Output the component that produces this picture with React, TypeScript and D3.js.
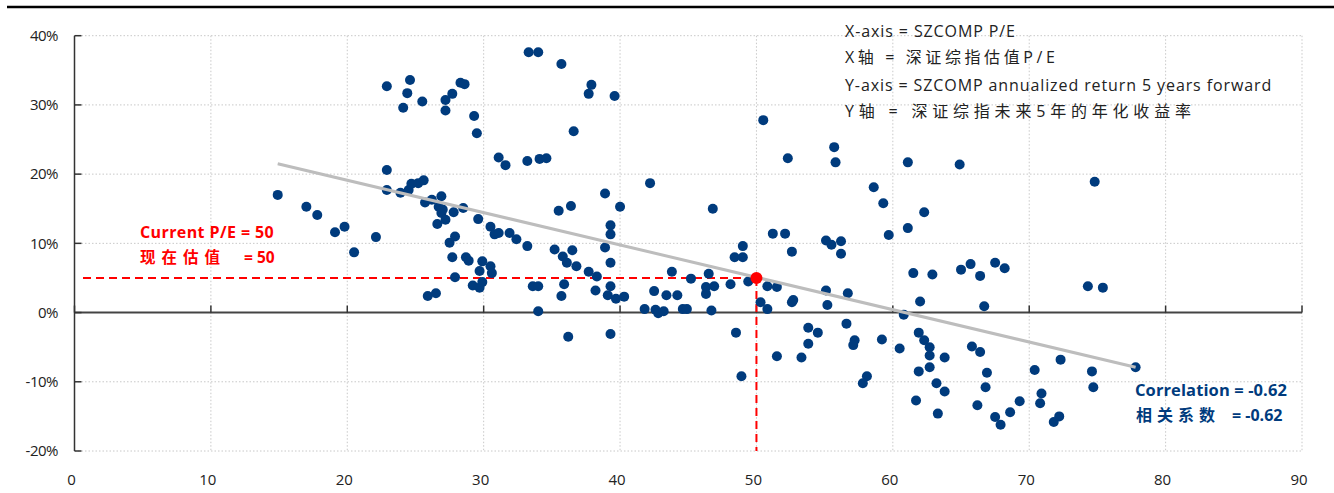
import React from "react";
import * as d3 from "d3";

// SZCOMP P/E (x) vs annualized return 5 years forward in % (y)
const peValues = [
  14.9, 17.0, 17.8, 19.1, 19.8, 20.5, 22.1, 22.9, 24.6, 24.4, 25.5, 24.1, 27.2, 27.2, 27.7, 28.3, 28.6, 29.3, 29.5,
  22.9, 22.9, 23.9, 24.5, 24.7, 25.2, 25.6, 26.2, 25.7, 26.7, 26.9, 26.9, 26.6, 27.0, 27.8, 28.5, 27.2, 29.6, 30.5,
  30.8, 31.1, 31.9, 32.4, 33.2, 27.5, 27.9, 27.7, 28.7, 28.9, 27.9, 25.9, 26.5, 29.9, 30.5, 29.7, 30.6, 29.2, 29.7,
  29.9, 31.1, 31.6, 33.2, 34.1, 34.6, 33.3, 34.0, 35.7, 37.9, 37.7, 39.6, 36.6, 38.9, 36.4, 35.5, 40.0, 39.3, 39.3,
  38.9, 35.2, 36.5, 35.8, 36.1, 36.8, 37.7, 38.3, 39.3, 39.3, 39.1, 39.7, 38.2, 35.9, 35.7, 33.6, 34.0, 34.0, 36.2,
  39.3, 42.2, 50.5, 52.3, 46.8, 51.2, 52.1, 49.0, 52.6, 48.4, 49.0, 43.8, 45.2, 46.5, 46.3, 46.9, 46.3, 48.1, 49.4,
  50.8, 51.5, 50.3, 50.8, 52.6, 52.7, 42.5, 43.4, 44.2, 40.3, 41.8, 42.6, 42.8, 43.2, 44.6, 44.9, 46.7, 48.5, 51.5,
  48.9, 55.7, 55.8, 61.1, 64.9, 58.6, 59.3, 62.3, 61.1, 59.7, 55.1, 55.5, 56.2, 56.2, 61.5, 62.9, 65.0, 65.7, 66.4,
  67.5, 68.2, 66.7, 74.3, 75.4, 55.1, 56.7, 55.2, 62.0, 60.8, 53.8, 54.5, 56.6, 53.8, 53.3, 57.2, 57.1, 59.2, 60.5,
  61.9, 62.3, 62.7, 62.7, 63.8, 65.8, 66.4, 62.7, 61.9, 58.1, 57.8, 63.2, 63.8, 61.7, 63.3, 74.8, 66.9, 66.8, 66.2,
  67.5, 67.9, 68.6, 69.3, 70.4, 70.9, 70.8, 72.3, 71.8, 72.2, 74.6, 74.7, 77.8,
];

const returnValues = [
  17.0, 15.3, 14.1, 11.6, 12.4, 8.7, 10.9, 32.7, 33.6, 31.7, 30.5, 29.6, 30.7, 29.2, 31.6, 33.2, 33.0, 28.4, 25.9,
  20.6, 17.7, 17.3, 17.7, 18.6, 18.7, 19.1, 16.3, 15.9, 15.3, 16.8, 14.4, 12.8, 14.9, 14.5, 15.1, 13.4, 13.5, 12.4,
  11.3, 11.5, 11.5, 10.6, 9.6, 10.1, 11.0, 8.0, 8.0, 7.5, 5.1, 2.4, 2.8, 7.4, 6.7, 6.0, 5.7, 3.9, 3.6,
  4.4, 22.4, 21.3, 21.9, 22.2, 22.3, 37.6, 37.6, 35.9, 32.9, 31.6, 31.3, 26.2, 17.2, 15.4, 14.7, 15.3, 12.6, 11.3,
  9.4, 9.1, 9.0, 8.1, 7.2, 6.7, 5.9, 5.2, 7.2, 3.8, 2.5, 2.0, 3.2, 4.1, 2.4, 3.8, 3.8, 0.2, -3.5,
  -3.1, 18.7, 27.8, 22.3, 15.0, 11.4, 11.4, 9.6, 8.8, 8.0, 8.0, 5.9, 4.9, 5.6, 3.7, 3.8, 2.7, 4.1, 4.5,
  3.8, 3.7, 1.5, 0.5, 1.5, 1.8, 3.1, 2.5, 2.5, 2.3, 0.5, 0.4, -0.1, 0.2, 0.5, 0.5, 0.3, -2.9, -6.3,
  -9.2, 23.9, 21.7, 21.7, 21.4, 18.1, 15.8, 14.5, 12.2, 11.2, 10.4, 9.8, 10.3, 8.5, 5.7, 5.5, 6.2, 7.0, 5.3,
  7.2, 6.4, 0.9, 3.8, 3.6, 3.2, 2.8, 1.1, 1.6, -0.3, -2.2, -2.9, -1.6, -4.5, -6.5, -4.0, -4.7, -3.9, -5.2,
  -2.9, -4.0, -5.0, -6.2, -6.5, -4.9, -5.7, -7.9, -8.5, -9.2, -10.2, -10.2, -11.4, -12.7, -14.6, 18.9, -8.7, -10.8, -13.4,
  -15.1, -16.2, -14.4, -12.8, -8.3, -11.7, -13.1, -6.8, -15.8, -15.0, -8.5, -10.8, -7.9,
];

// regression line end points (P/E, return %)
const trendPE = [14.9, 77.8];
const trendReturn = [21.5, -7.9];

const currentPE = 50;
const currentReturn = 5;

const xTicks = [0, 10, 20, 30, 40, 50, 60, 70, 80, 90];
const yTicks = [-20, -10, 0, 10, 20, 30, 40];

const legendLines = [
  "X-axis = SZCOMP P/E",
  "X轴 = 深证综指估值P/E",
  "Y-axis = SZCOMP annualized return 5 years forward",
  "Y轴 = 深证综指未来5年的年化收益率",
];

const W = 1334;
const H = 493;
const navy = "#003b7d";
const red = "#ff0000";
const latin = "'Open Sans', 'Noto Sans CJK SC', sans-serif";

const App: React.FC = () => {
  const x = d3.scaleLinear().domain([0, 90]).range([74.5, 1302]);
  const y = d3.scaleLinear().domain([-20, 40]).range([451, 35.7]);

  const points = peValues.map((pe, i) => ({ pe, ret: returnValues[i] }));

  return (
    <svg width={W} height={H} style={{ position: "absolute", left: 0, top: 0, background: "#fff" }}>
      {/* top rule */}
      <line x1={7} x2={W} y1={7} y2={7} stroke="#000" strokeWidth={2.5} />

      {/* gridlines */}
      {yTicks
        .filter((t) => t !== 0)
        .map((t) => (
          <line key={"gy" + t} x1={x(0)} x2={x(90)} y1={y(t)} y2={y(t)} stroke="#c8c8c8" strokeDasharray="1.5,2" />
        ))}
      {xTicks
        .filter((t) => t !== 0)
        .map((t) => (
          <line key={"gx" + t} x1={x(t)} x2={x(t)} y1={y(40)} y2={y(-20)} stroke="#c8c8c8" strokeDasharray="1.5,2" />
        ))}

      {/* axes */}
      <line x1={x(0)} x2={x(0)} y1={y(40)} y2={y(-20)} stroke="#333" strokeWidth={1.5} />
      <line x1={x(0)} x2={x(90)} y1={y(0)} y2={y(0)} stroke="#444" strokeWidth={2} />
      {yTicks.map((t) => (
        <g key={"yt" + t}>
          <line x1={x(0)} x2={x(0) + 7} y1={y(t)} y2={y(t)} stroke="#333" strokeWidth={1.5} />
          <text x={58} y={y(t)} dy="0.35em" textAnchor="end" fontSize={15} fill="#222" fontFamily={latin} letterSpacing={-0.5}>
            {t + "%"}
          </text>
        </g>
      ))}
      {xTicks.map((t) => (
        <g key={"xt" + t}>
          <line x1={x(t)} x2={x(t)} y1={y(0)} y2={y(0) - 7} stroke="#333" strokeWidth={1.5} />
          <text x={x(t) - 3} y={485} textAnchor="middle" fontSize={15} fill="#222" fontFamily={latin}>
            {t}
          </text>
        </g>
      ))}

      {/* current valuation guides */}
      <line
        x1={83}
        x2={x(currentPE)}
        y1={y(currentReturn)}
        y2={y(currentReturn)}
        stroke={red}
        strokeWidth={2}
        strokeDasharray="8,5"
      />
      <line
        x1={x(currentPE)}
        x2={x(currentPE)}
        y1={y(currentReturn)}
        y2={y(-20)}
        stroke={red}
        strokeWidth={2}
        strokeDasharray="8,5"
      />

      {/* scatter points */}
      {points.map((d, i) => (
        <circle key={i} cx={x(d.pe)} cy={y(d.ret)} r={5} fill={navy} />
      ))}

      {/* trend line */}
      <line
        x1={x(trendPE[0])}
        x2={x(trendPE[1])}
        y1={y(trendReturn[0])}
        y2={y(trendReturn[1])}
        stroke="#bdbdbd"
        strokeWidth={3}
      />

      <circle cx={x(currentPE)} cy={y(currentReturn)} r={6} fill={red} />

      {/* annotations */}
      <text x={140} y={238} fontSize={16} fontWeight="bold" fill={red} fontFamily={latin} letterSpacing={0.4}>
        Current P/E = 50
      </text>
      <text x={140} y={263} fontSize={15.5} fontWeight="bold" fill={red} fontFamily={latin}>
        <tspan letterSpacing={6}>现在估值</tspan>
        <tspan dx={18}>= 50</tspan>
      </text>

      <text x={1135} y={396} fontSize={16.5} fontWeight="bold" fill={navy} fontFamily={latin} letterSpacing={0.1}>
        Correlation = -0.62
      </text>
      <text x={1136} y={421} fontSize={16} fontWeight="bold" fill={navy} fontFamily={latin}>
        <tspan letterSpacing={5}>相关系数</tspan>
        <tspan dx={12}>= -0.62</tspan>
      </text>

      {legendLines.map((s, i) => (
        <text
          key={s}
          x={845}
          y={[37, 63, 91, 117][i]}
          fontSize={16}
          fill="#222"
          fontFamily={latin}
          letterSpacing={[0.9, 3.6, 0.9, 4.8][i]}
        >
          {s}
        </text>
      ))}
    </svg>
  );
};

export default App;
